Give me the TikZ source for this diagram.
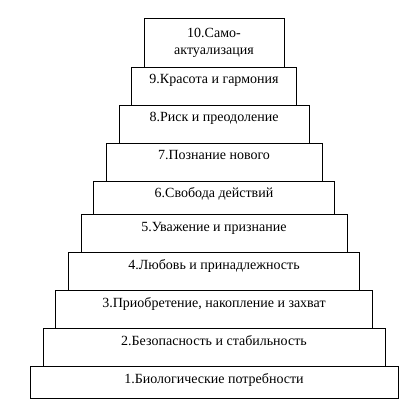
\documentclass[tikz,border=0pt]{standalone}
\usepackage{fontspec}
\setmainfont{Liberation Serif}
\usetikzlibrary{positioning}
\tikzset{tier/.style = {draw, line width=0.7pt, inner sep=0, outer sep=0, align=center,
                        font=\fontsize{14}{17}\selectfont}}
\tikzset{full/.style = {text height=17pt, text depth=21pt}}
\tikzset{flat/.style = {text height=17pt, text depth=16pt}}

\begin{document}
\begin{tikzpicture}[x=1pt, y=1pt]
  \useasboundingbox (0, 0) rectangle (414, -419);

  \node [tier, minimum width=140, minimum height=49, anchor=north] (t10) at (214, -18) {10.Само-\\актуализация};
  \node [tier, full, minimum width=165, below=0pt of t10] (t9) {9.Красота и гармония};
  \node [tier, full, minimum width=190, below=0pt of t9] (t8) {8.Риск и преодоление};
  \node [tier, full, minimum width=216, below=0pt of t8] (t7) {7.Познание нового};
  \node [tier, flat, minimum width=241, below=0pt of t7] (t6) {6.Свобода действий};
  \node [tier, full, minimum width=266, below=0pt of t6] (t5) {5.Уважение и признание};
  \node [tier, full, minimum width=291, below=0pt of t5] (t4) {4.Любовь и принадлежность};
  \node [tier, full, minimum width=317, below=0pt of t4] (t3) {3.Приобретение, накопление и захват};
  \node [tier, full, minimum width=342, below=0pt of t3] (t2) {2.Безопасность и стабильность};
  \node [tier, flat, text depth=15pt, minimum width=368, below=0pt of t2] (t1) {1.Биологические потребности};
\end{tikzpicture}
\end{document}
